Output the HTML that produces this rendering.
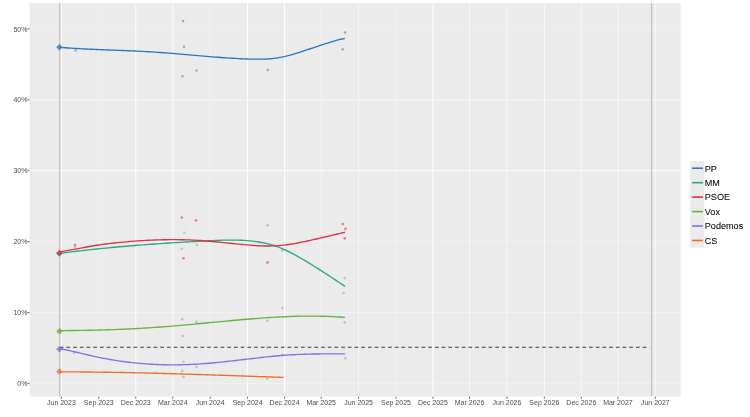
<!DOCTYPE html>
<html><head><meta charset="utf-8"><style>
html,body{margin:0;padding:0;background:#fff;}
svg{display:block;font-family:"Liberation Sans",sans-serif;}
</style></head><body>
<svg width="750" height="417" viewBox="0 0 750 417">
<defs><filter id="b1" x="-5%" y="-5%" width="110%" height="110%"><feGaussianBlur stdDeviation="0.6"/></filter><filter id="b2" x="-5%" y="-5%" width="110%" height="110%"><feGaussianBlur stdDeviation="0.55"/></filter><filter id="b3" x="-5%" y="-5%" width="110%" height="110%"><feGaussianBlur stdDeviation="0.35"/></filter></defs>
<g filter="url(#b1)">
<rect x="29.6" y="3.0" width="651.1" height="393.5" fill="#EBEBEB"/>
<line x1="29.6" x2="680.7" y1="347.95" y2="347.95" stroke="#FFFFFF" stroke-opacity="0.06" stroke-width="0.8"/>
<line x1="29.6" x2="680.7" y1="277.05" y2="277.05" stroke="#FFFFFF" stroke-opacity="0.06" stroke-width="0.8"/>
<line x1="29.6" x2="680.7" y1="206.15" y2="206.15" stroke="#FFFFFF" stroke-opacity="0.06" stroke-width="0.8"/>
<line x1="29.6" x2="680.7" y1="135.25" y2="135.25" stroke="#FFFFFF" stroke-opacity="0.06" stroke-width="0.8"/>
<line x1="29.6" x2="680.7" y1="64.35" y2="64.35" stroke="#FFFFFF" stroke-opacity="0.06" stroke-width="0.8"/>
<line x1="42.70" x2="42.70" y1="3.0" y2="396.5" stroke="#FFFFFF" stroke-opacity="0.15" stroke-width="0.8"/>
<line x1="80.10" x2="80.10" y1="3.0" y2="396.5" stroke="#FFFFFF" stroke-opacity="0.15" stroke-width="0.8"/>
<line x1="117.29" x2="117.29" y1="3.0" y2="396.5" stroke="#FFFFFF" stroke-opacity="0.15" stroke-width="0.8"/>
<line x1="154.29" x2="154.29" y1="3.0" y2="396.5" stroke="#FFFFFF" stroke-opacity="0.15" stroke-width="0.8"/>
<line x1="191.48" x2="191.48" y1="3.0" y2="396.5" stroke="#FFFFFF" stroke-opacity="0.15" stroke-width="0.8"/>
<line x1="228.88" x2="228.88" y1="3.0" y2="396.5" stroke="#FFFFFF" stroke-opacity="0.15" stroke-width="0.8"/>
<line x1="266.07" x2="266.07" y1="3.0" y2="396.5" stroke="#FFFFFF" stroke-opacity="0.15" stroke-width="0.8"/>
<line x1="302.86" x2="302.86" y1="3.0" y2="396.5" stroke="#FFFFFF" stroke-opacity="0.15" stroke-width="0.8"/>
<line x1="339.85" x2="339.85" y1="3.0" y2="396.5" stroke="#FFFFFF" stroke-opacity="0.15" stroke-width="0.8"/>
<line x1="377.25" x2="377.25" y1="3.0" y2="396.5" stroke="#FFFFFF" stroke-opacity="0.15" stroke-width="0.8"/>
<line x1="414.45" x2="414.45" y1="3.0" y2="396.5" stroke="#FFFFFF" stroke-opacity="0.15" stroke-width="0.8"/>
<line x1="451.24" x2="451.24" y1="3.0" y2="396.5" stroke="#FFFFFF" stroke-opacity="0.15" stroke-width="0.8"/>
<line x1="488.23" x2="488.23" y1="3.0" y2="396.5" stroke="#FFFFFF" stroke-opacity="0.15" stroke-width="0.8"/>
<line x1="525.63" x2="525.63" y1="3.0" y2="396.5" stroke="#FFFFFF" stroke-opacity="0.15" stroke-width="0.8"/>
<line x1="562.82" x2="562.82" y1="3.0" y2="396.5" stroke="#FFFFFF" stroke-opacity="0.15" stroke-width="0.8"/>
<line x1="599.61" x2="599.61" y1="3.0" y2="396.5" stroke="#FFFFFF" stroke-opacity="0.15" stroke-width="0.8"/>
<line x1="636.60" x2="636.60" y1="3.0" y2="396.5" stroke="#FFFFFF" stroke-opacity="0.15" stroke-width="0.8"/>
<line x1="674.00" x2="674.00" y1="3.0" y2="396.5" stroke="#FFFFFF" stroke-opacity="0.15" stroke-width="0.8"/>
<line x1="29.6" x2="680.7" y1="383.40" y2="383.40" stroke="#FFFFFF" stroke-opacity="0.3" stroke-width="1"/>
<line x1="29.6" x2="680.7" y1="312.50" y2="312.50" stroke="#FFFFFF" stroke-opacity="0.3" stroke-width="1"/>
<line x1="29.6" x2="680.7" y1="241.60" y2="241.60" stroke="#FFFFFF" stroke-opacity="0.3" stroke-width="1"/>
<line x1="29.6" x2="680.7" y1="170.70" y2="170.70" stroke="#FFFFFF" stroke-opacity="1.0" stroke-width="1"/>
<line x1="29.6" x2="680.7" y1="99.80" y2="99.80" stroke="#FFFFFF" stroke-opacity="0.75" stroke-width="1"/>
<line x1="29.6" x2="680.7" y1="28.90" y2="28.90" stroke="#FFFFFF" stroke-opacity="0.3" stroke-width="1"/>
<line x1="61.40" x2="61.40" y1="3.0" y2="396.5" stroke="#FFFFFF" stroke-opacity="0.8" stroke-width="1"/>
<line x1="98.80" x2="98.80" y1="3.0" y2="396.5" stroke="#FFFFFF" stroke-opacity="0.3" stroke-width="1"/>
<line x1="135.79" x2="135.79" y1="3.0" y2="396.5" stroke="#FFFFFF" stroke-opacity="1.0" stroke-width="1"/>
<line x1="172.78" x2="172.78" y1="3.0" y2="396.5" stroke="#FFFFFF" stroke-opacity="0.9" stroke-width="1"/>
<line x1="210.18" x2="210.18" y1="3.0" y2="396.5" stroke="#FFFFFF" stroke-opacity="0.3" stroke-width="1"/>
<line x1="247.58" x2="247.58" y1="3.0" y2="396.5" stroke="#FFFFFF" stroke-opacity="1.0" stroke-width="1"/>
<line x1="284.57" x2="284.57" y1="3.0" y2="396.5" stroke="#FFFFFF" stroke-opacity="1.0" stroke-width="1"/>
<line x1="321.16" x2="321.16" y1="3.0" y2="396.5" stroke="#FFFFFF" stroke-opacity="0.35" stroke-width="1"/>
<line x1="358.55" x2="358.55" y1="3.0" y2="396.5" stroke="#FFFFFF" stroke-opacity="0.6" stroke-width="1"/>
<line x1="395.95" x2="395.95" y1="3.0" y2="396.5" stroke="#FFFFFF" stroke-opacity="0.3" stroke-width="1"/>
<line x1="432.94" x2="432.94" y1="3.0" y2="396.5" stroke="#FFFFFF" stroke-opacity="1.0" stroke-width="1"/>
<line x1="469.53" x2="469.53" y1="3.0" y2="396.5" stroke="#FFFFFF" stroke-opacity="0.6" stroke-width="1"/>
<line x1="506.93" x2="506.93" y1="3.0" y2="396.5" stroke="#FFFFFF" stroke-opacity="0.6" stroke-width="1"/>
<line x1="544.32" x2="544.32" y1="3.0" y2="396.5" stroke="#FFFFFF" stroke-opacity="0.8" stroke-width="1"/>
<line x1="581.32" x2="581.32" y1="3.0" y2="396.5" stroke="#FFFFFF" stroke-opacity="0.6" stroke-width="1"/>
<line x1="617.90" x2="617.90" y1="3.0" y2="396.5" stroke="#FFFFFF" stroke-opacity="0.7" stroke-width="1"/>
<line x1="655.30" x2="655.30" y1="3.0" y2="396.5" stroke="#FFFFFF" stroke-opacity="0.6" stroke-width="1"/>
</g><g filter="url(#b2)">
<line x1="59.77" x2="59.77" y1="3.0" y2="396.5" stroke="#A0A0A0" stroke-width="0.7"/>
<line x1="651.64" x2="651.64" y1="3.0" y2="396.5" stroke="#A0A0A0" stroke-width="0.7"/>
<line x1="59.77" x2="649.64" y1="347.2" y2="347.2" stroke="#3A3A3A" stroke-width="1.15" stroke-dasharray="3.7 3"/>
<circle cx="75.6" cy="50.5" r="1.3" fill="#2E76BA" fill-opacity="0.5"/>
<circle cx="183.1" cy="21.1" r="1.3" fill="#2E76BA" fill-opacity="0.5"/>
<circle cx="184" cy="46.9" r="1.3" fill="#2E76BA" fill-opacity="0.5"/>
<circle cx="182.5" cy="76.2" r="1.3" fill="#2E76BA" fill-opacity="0.5"/>
<circle cx="196.5" cy="70.5" r="1.3" fill="#2E76BA" fill-opacity="0.5"/>
<circle cx="267.8" cy="69.9" r="1.3" fill="#2E76BA" fill-opacity="0.5"/>
<circle cx="345.1" cy="32.5" r="1.3" fill="#2E76BA" fill-opacity="0.5"/>
<circle cx="342.7" cy="49.3" r="1.3" fill="#2E76BA" fill-opacity="0.5"/>
<circle cx="181.8" cy="217.6" r="1.3" fill="#DE3344" fill-opacity="0.6"/>
<circle cx="196" cy="220.5" r="1.3" fill="#DE3344" fill-opacity="0.6"/>
<circle cx="183.5" cy="258.2" r="1.3" fill="#DE3344" fill-opacity="0.6"/>
<circle cx="267.5" cy="262.4" r="1.3" fill="#DE3344" fill-opacity="0.6"/>
<circle cx="342.8" cy="224" r="1.3" fill="#DE3344" fill-opacity="0.6"/>
<circle cx="345.4" cy="228.8" r="1.3" fill="#DE3344" fill-opacity="0.6"/>
<circle cx="344.7" cy="238.4" r="1.3" fill="#DE3344" fill-opacity="0.6"/>
<circle cx="75" cy="245" r="1.3" fill="#DE3344" fill-opacity="0.6"/>
<circle cx="184.3" cy="232.7" r="1.3" fill="#8A9A94" fill-opacity="0.5"/>
<circle cx="181.8" cy="248.7" r="1.3" fill="#8A9A94" fill-opacity="0.5"/>
<circle cx="196.9" cy="245" r="1.3" fill="#8A9A94" fill-opacity="0.5"/>
<circle cx="267.5" cy="225.2" r="1.3" fill="#8A9A94" fill-opacity="0.5"/>
<circle cx="282.3" cy="250.4" r="1.3" fill="#8A9A94" fill-opacity="0.5"/>
<circle cx="344.7" cy="278" r="1.3" fill="#8A9A94" fill-opacity="0.5"/>
<circle cx="343.5" cy="293" r="1.3" fill="#8A9A94" fill-opacity="0.5"/>
<circle cx="75" cy="247" r="1.3" fill="#8A9A94" fill-opacity="0.5"/>
<circle cx="182.2" cy="319.2" r="1.3" fill="#8A9A94" fill-opacity="0.5"/>
<circle cx="196.6" cy="321.9" r="1.3" fill="#8A9A94" fill-opacity="0.5"/>
<circle cx="182.8" cy="335.9" r="1.3" fill="#8A9A94" fill-opacity="0.5"/>
<circle cx="282.4" cy="308" r="1.3" fill="#8A9A94" fill-opacity="0.5"/>
<circle cx="267.3" cy="320.7" r="1.3" fill="#8A9A94" fill-opacity="0.5"/>
<circle cx="344.7" cy="322.4" r="1.3" fill="#8A9A94" fill-opacity="0.5"/>
<circle cx="74" cy="352.8" r="1.3" fill="#8A9A94" fill-opacity="0.5"/>
<circle cx="183.6" cy="361.7" r="1.3" fill="#8A9A94" fill-opacity="0.5"/>
<circle cx="196.6" cy="367" r="1.3" fill="#8A9A94" fill-opacity="0.5"/>
<circle cx="267.3" cy="347.5" r="1.3" fill="#8A9A94" fill-opacity="0.5"/>
<circle cx="282.4" cy="354.7" r="1.3" fill="#8A9A94" fill-opacity="0.5"/>
<circle cx="344" cy="347.5" r="1.3" fill="#8A9A94" fill-opacity="0.5"/>
<circle cx="345.4" cy="358.3" r="1.3" fill="#8A9A94" fill-opacity="0.5"/>
<circle cx="182.2" cy="370.9" r="1.3" fill="#8A9A94" fill-opacity="0.5"/>
<circle cx="183.6" cy="377" r="1.3" fill="#8A9A94" fill-opacity="0.5"/>
<circle cx="267.3" cy="378.7" r="1.3" fill="#8A9A94" fill-opacity="0.5"/>
<polyline points="59.50,47.31 62.38,47.54 65.27,47.76 68.15,47.96 71.03,48.15 73.91,48.33 76.80,48.51 79.68,48.67 82.56,48.82 85.45,48.97 88.33,49.11 91.21,49.25 94.09,49.38 96.98,49.50 99.86,49.62 102.74,49.74 105.63,49.86 108.51,49.97 111.39,50.08 114.27,50.19 117.16,50.31 120.04,50.42 122.92,50.54 125.81,50.65 128.69,50.77 131.57,50.90 134.45,51.03 137.34,51.16 140.22,51.30 143.10,51.45 145.98,51.60 148.87,51.77 151.75,51.94 154.63,52.12 157.52,52.31 160.40,52.51 163.28,52.72 166.16,52.94 169.05,53.16 171.93,53.39 174.81,53.63 177.70,53.87 180.58,54.12 183.46,54.37 186.34,54.62 189.23,54.87 192.11,55.12 194.99,55.37 197.88,55.63 200.76,55.87 203.64,56.12 206.52,56.37 209.41,56.60 212.29,56.84 215.17,57.07 218.06,57.29 220.94,57.50 223.82,57.71 226.70,57.91 229.59,58.09 232.47,58.27 235.35,58.43 238.24,58.58 241.12,58.72 244.00,58.85 246.88,58.96 249.77,59.05 252.65,59.13 255.53,59.18 258.42,59.20 261.30,59.17 264.18,59.10 267.06,58.97 269.95,58.78 272.83,58.51 275.71,58.15 278.59,57.71 281.48,57.17 284.36,56.56 287.24,55.87 290.13,55.12 293.01,54.31 295.89,53.46 298.77,52.56 301.66,51.64 304.54,50.69 307.42,49.73 310.31,48.76 313.19,47.78 316.07,46.81 318.95,45.84 321.84,44.89 324.72,43.95 327.60,43.03 330.49,42.14 333.37,41.29 336.25,40.47 339.13,39.70 342.02,38.98 344.90,38.31" fill="none" stroke="#2E76BA" stroke-width="1.35" stroke-linejoin="round" stroke-linecap="butt"/>
<polyline points="59.50,253.43 62.38,253.05 65.27,252.67 68.15,252.30 71.04,251.93 73.92,251.58 76.80,251.23 79.69,250.89 82.57,250.55 85.45,250.22 88.34,249.90 91.22,249.58 94.11,249.27 96.99,248.97 99.87,248.67 102.76,248.38 105.64,248.09 108.53,247.81 111.41,247.54 114.29,247.27 117.18,247.00 120.06,246.74 122.94,246.49 125.83,246.24 128.71,246.00 131.60,245.76 134.48,245.52 137.36,245.29 140.25,245.07 143.13,244.85 146.02,244.63 148.90,244.42 151.78,244.21 154.67,244.00 157.55,243.80 160.43,243.60 163.32,243.41 166.20,243.22 169.09,243.03 171.97,242.85 174.85,242.67 177.74,242.49 180.62,242.31 183.51,242.14 186.39,241.97 189.27,241.80 192.16,241.64 195.04,241.47 197.92,241.31 200.81,241.15 203.69,241.00 206.58,240.84 209.46,240.69 212.34,240.55 215.23,240.42 218.11,240.31 220.99,240.21 223.88,240.14 226.76,240.08 229.65,240.06 232.53,240.06 235.41,240.10 238.30,240.17 241.18,240.29 244.07,240.44 246.95,240.64 249.83,240.89 252.72,241.19 255.60,241.55 258.48,241.97 261.37,242.46 264.25,243.03 267.14,243.68 270.02,244.42 272.90,245.25 275.79,246.19 278.67,247.23 281.56,248.38 284.44,249.63 287.32,250.96 290.21,252.38 293.09,253.87 295.97,255.43 298.86,257.04 301.74,258.71 304.63,260.42 307.51,262.17 310.39,263.94 313.28,265.73 316.16,267.54 319.05,269.36 321.93,271.19 324.81,273.04 327.70,274.90 330.58,276.78 333.46,278.67 336.35,280.57 339.23,282.49 342.12,284.43 345.00,286.39" fill="none" stroke="#2AAA82" stroke-width="1.35" stroke-linejoin="round" stroke-linecap="butt"/>
<polyline points="59.50,251.86 62.38,251.41 65.27,250.94 68.15,250.45 71.04,249.94 73.92,249.42 76.80,248.88 79.69,248.35 82.57,247.81 85.45,247.28 88.34,246.75 91.22,246.25 94.11,245.76 96.99,245.29 99.87,244.85 102.76,244.44 105.64,244.04 108.53,243.67 111.41,243.32 114.29,242.99 117.18,242.68 120.06,242.38 122.94,242.11 125.83,241.85 128.71,241.60 131.60,241.37 134.48,241.15 137.36,240.94 140.25,240.75 143.13,240.58 146.02,240.41 148.90,240.26 151.78,240.13 154.67,240.01 157.55,239.91 160.43,239.83 163.32,239.76 166.20,239.71 169.09,239.67 171.97,239.65 174.85,239.66 177.74,239.67 180.62,239.71 183.51,239.77 186.39,239.85 189.27,239.94 192.16,240.06 195.04,240.20 197.92,240.36 200.81,240.54 203.69,240.74 206.58,240.97 209.46,241.21 212.34,241.47 215.23,241.74 218.11,242.02 220.99,242.32 223.88,242.62 226.76,242.92 229.65,243.23 232.53,243.53 235.41,243.83 238.30,244.12 241.18,244.40 244.07,244.67 246.95,244.93 249.83,245.17 252.72,245.39 255.60,245.59 258.48,245.75 261.37,245.88 264.25,245.97 267.14,246.02 270.02,246.01 272.90,245.95 275.79,245.83 278.67,245.64 281.56,245.39 284.44,245.08 287.32,244.71 290.21,244.29 293.09,243.82 295.97,243.32 298.86,242.77 301.74,242.20 304.63,241.59 307.51,240.97 310.39,240.32 313.28,239.67 316.16,239.00 319.05,238.33 321.93,237.65 324.81,236.97 327.70,236.29 330.58,235.61 333.46,234.93 336.35,234.26 339.23,233.59 342.12,232.93 345.00,232.28" fill="none" stroke="#DE3344" stroke-width="1.35" stroke-linejoin="round" stroke-linecap="butt"/>
<polyline points="59.30,330.60 62.19,330.59 65.07,330.57 67.96,330.55 70.84,330.52 73.73,330.49 76.62,330.46 79.50,330.42 82.39,330.38 85.27,330.33 88.16,330.28 91.04,330.22 93.93,330.16 96.82,330.09 99.70,330.01 102.59,329.93 105.47,329.85 108.36,329.76 111.25,329.66 114.13,329.56 117.02,329.45 119.90,329.34 122.79,329.22 125.67,329.09 128.56,328.96 131.45,328.82 134.33,328.67 137.22,328.52 140.10,328.35 142.99,328.19 145.88,328.01 148.76,327.83 151.65,327.64 154.53,327.44 157.42,327.24 160.31,327.03 163.19,326.81 166.08,326.58 168.96,326.35 171.85,326.12 174.73,325.87 177.62,325.63 180.51,325.37 183.39,325.12 186.28,324.86 189.16,324.60 192.05,324.33 194.94,324.06 197.82,323.79 200.71,323.52 203.59,323.25 206.48,322.97 209.36,322.70 212.25,322.42 215.14,322.15 218.02,321.87 220.91,321.60 223.79,321.33 226.68,321.06 229.57,320.79 232.45,320.53 235.34,320.26 238.22,320.01 241.11,319.75 243.99,319.50 246.88,319.26 249.77,319.01 252.65,318.78 255.54,318.55 258.42,318.33 261.31,318.11 264.20,317.90 267.08,317.70 269.97,317.51 272.85,317.33 275.74,317.16 278.63,317.00 281.51,316.84 284.40,316.71 287.28,316.58 290.17,316.46 293.05,316.36 295.94,316.28 298.83,316.20 301.71,316.15 304.60,316.10 307.48,316.08 310.37,316.07 313.26,316.07 316.14,316.10 319.03,316.14 321.91,316.21 324.80,316.29 327.68,316.39 330.57,316.51 333.46,316.66 336.34,316.82 339.23,317.01 342.11,317.22 345.00,317.45" fill="none" stroke="#62B638" stroke-width="1.35" stroke-linejoin="round" stroke-linecap="butt"/>
<polyline points="59.30,348.45 62.19,349.01 65.07,349.61 67.96,350.23 70.84,350.88 73.73,351.55 76.62,352.24 79.50,352.93 82.39,353.62 85.27,354.31 88.16,354.99 91.04,355.66 93.93,356.31 96.82,356.94 99.70,357.54 102.59,358.12 105.47,358.68 108.36,359.21 111.25,359.71 114.13,360.20 117.02,360.65 119.90,361.09 122.79,361.50 125.67,361.89 128.56,362.25 131.45,362.58 134.33,362.90 137.22,363.19 140.10,363.45 142.99,363.69 145.88,363.91 148.76,364.10 151.65,364.27 154.53,364.42 157.42,364.54 160.31,364.64 163.19,364.72 166.08,364.78 168.96,364.82 171.85,364.83 174.73,364.82 177.62,364.80 180.51,364.75 183.39,364.68 186.28,364.59 189.16,364.49 192.05,364.36 194.94,364.22 197.82,364.05 200.71,363.87 203.59,363.67 206.48,363.46 209.36,363.22 212.25,362.97 215.14,362.71 218.02,362.43 220.91,362.13 223.79,361.83 226.68,361.52 229.57,361.19 232.45,360.86 235.34,360.53 238.22,360.19 241.11,359.85 243.99,359.50 246.88,359.16 249.77,358.82 252.65,358.48 255.54,358.14 258.42,357.81 261.31,357.48 264.20,357.16 267.08,356.86 269.97,356.56 272.85,356.27 275.74,356.00 278.63,355.74 281.51,355.50 284.40,355.28 287.28,355.07 290.17,354.89 293.05,354.72 295.94,354.58 298.83,354.45 301.71,354.34 304.60,354.24 307.48,354.16 310.37,354.09 313.26,354.04 316.14,353.99 319.03,353.96 321.91,353.93 324.80,353.92 327.68,353.91 330.57,353.90 333.46,353.90 336.34,353.90 339.23,353.90 342.11,353.91 345.00,353.91" fill="none" stroke="#8270E6" stroke-width="1.35" stroke-linejoin="round" stroke-linecap="butt"/>
<polyline points="59.30,371.84 61.57,371.85 63.83,371.85 66.10,371.86 68.36,371.87 70.63,371.88 72.89,371.89 75.16,371.90 77.43,371.92 79.69,371.93 81.96,371.95 84.22,371.97 86.49,371.99 88.75,372.02 91.02,372.04 93.28,372.07 95.55,372.09 97.82,372.12 100.08,372.15 102.35,372.18 104.61,372.21 106.88,372.25 109.14,372.28 111.41,372.32 113.68,372.36 115.94,372.40 118.21,372.44 120.47,372.48 122.74,372.52 125.00,372.56 127.27,372.61 129.54,372.65 131.80,372.70 134.07,372.75 136.33,372.80 138.60,372.85 140.86,372.90 143.13,372.95 145.39,373.01 147.66,373.06 149.93,373.12 152.19,373.17 154.46,373.23 156.72,373.29 158.99,373.35 161.25,373.41 163.52,373.47 165.79,373.53 168.05,373.59 170.32,373.66 172.58,373.72 174.85,373.79 177.11,373.85 179.38,373.92 181.65,373.98 183.91,374.05 186.18,374.12 188.44,374.19 190.71,374.26 192.97,374.33 195.24,374.40 197.51,374.47 199.77,374.54 202.04,374.62 204.30,374.69 206.57,374.76 208.83,374.84 211.10,374.91 213.36,374.99 215.63,375.06 217.90,375.14 220.16,375.22 222.43,375.29 224.69,375.37 226.96,375.45 229.22,375.52 231.49,375.60 233.76,375.68 236.02,375.76 238.29,375.84 240.55,375.92 242.82,376.00 245.08,376.07 247.35,376.15 249.62,376.23 251.88,376.31 254.15,376.39 256.41,376.47 258.68,376.55 260.94,376.63 263.21,376.71 265.47,376.79 267.74,376.87 270.01,376.95 272.27,377.03 274.54,377.11 276.80,377.19 279.07,377.27 281.33,377.35 283.60,377.43" fill="none" stroke="#EA7028" stroke-width="1.35" stroke-linejoin="round" stroke-linecap="butt"/>
<path d="M56.199999999999996,47.3 L59.4,44.099999999999994 L62.6,47.3 L59.4,50.5 Z" fill="#2E76BA" fill-opacity="0.8"/>
<path d="M56.199999999999996,253.6 L59.4,250.4 L62.6,253.6 L59.4,256.8 Z" fill="#2AAA82" fill-opacity="0.8"/>
<path d="M56.199999999999996,253.0 L59.4,249.8 L62.6,253.0 L59.4,256.2 Z" fill="#DE3344" fill-opacity="0.8"/>
<path d="M56.199999999999996,331.2 L59.4,328.0 L62.6,331.2 L59.4,334.4 Z" fill="#62B638" fill-opacity="0.8"/>
<path d="M56.199999999999996,349.2 L59.4,346.0 L62.6,349.2 L59.4,352.4 Z" fill="#8270E6" fill-opacity="0.8"/>
<path d="M56.199999999999996,371.5 L59.4,368.3 L62.6,371.5 L59.4,374.7 Z" fill="#EA7028" fill-opacity="0.8"/>
</g><g filter="url(#b3)">
<line x1="61.40" x2="61.40" y1="396.5" y2="398.9" stroke="#555555" stroke-width="0.8"/>
<text transform="translate(61.40,404.9) scale(1,1.1)" font-size="7" text-anchor="middle" fill="#4D4D4D">Jun 2023</text>
<line x1="98.80" x2="98.80" y1="396.5" y2="398.9" stroke="#555555" stroke-width="0.8"/>
<text transform="translate(98.80,404.9) scale(1,1.1)" font-size="7" text-anchor="middle" fill="#4D4D4D">Sep 2023</text>
<line x1="135.79" x2="135.79" y1="396.5" y2="398.9" stroke="#555555" stroke-width="0.8"/>
<text transform="translate(135.79,404.9) scale(1,1.1)" font-size="7" text-anchor="middle" fill="#4D4D4D">Dec 2023</text>
<line x1="172.78" x2="172.78" y1="396.5" y2="398.9" stroke="#555555" stroke-width="0.8"/>
<text transform="translate(172.78,404.9) scale(1,1.1)" font-size="7" text-anchor="middle" fill="#4D4D4D">Mar 2024</text>
<line x1="210.18" x2="210.18" y1="396.5" y2="398.9" stroke="#555555" stroke-width="0.8"/>
<text transform="translate(210.18,404.9) scale(1,1.1)" font-size="7" text-anchor="middle" fill="#4D4D4D">Jun 2024</text>
<line x1="247.58" x2="247.58" y1="396.5" y2="398.9" stroke="#555555" stroke-width="0.8"/>
<text transform="translate(247.58,404.9) scale(1,1.1)" font-size="7" text-anchor="middle" fill="#4D4D4D">Sep 2024</text>
<line x1="284.57" x2="284.57" y1="396.5" y2="398.9" stroke="#555555" stroke-width="0.8"/>
<text transform="translate(284.57,404.9) scale(1,1.1)" font-size="7" text-anchor="middle" fill="#4D4D4D">Dec 2024</text>
<line x1="321.16" x2="321.16" y1="396.5" y2="398.9" stroke="#555555" stroke-width="0.8"/>
<text transform="translate(321.16,404.9) scale(1,1.1)" font-size="7" text-anchor="middle" fill="#4D4D4D">Mar 2025</text>
<line x1="358.55" x2="358.55" y1="396.5" y2="398.9" stroke="#555555" stroke-width="0.8"/>
<text transform="translate(358.55,404.9) scale(1,1.1)" font-size="7" text-anchor="middle" fill="#4D4D4D">Jun 2025</text>
<line x1="395.95" x2="395.95" y1="396.5" y2="398.9" stroke="#555555" stroke-width="0.8"/>
<text transform="translate(395.95,404.9) scale(1,1.1)" font-size="7" text-anchor="middle" fill="#4D4D4D">Sep 2025</text>
<line x1="432.94" x2="432.94" y1="396.5" y2="398.9" stroke="#555555" stroke-width="0.8"/>
<text transform="translate(432.94,404.9) scale(1,1.1)" font-size="7" text-anchor="middle" fill="#4D4D4D">Dec 2025</text>
<line x1="469.53" x2="469.53" y1="396.5" y2="398.9" stroke="#555555" stroke-width="0.8"/>
<text transform="translate(469.53,404.9) scale(1,1.1)" font-size="7" text-anchor="middle" fill="#4D4D4D">Mar 2026</text>
<line x1="506.93" x2="506.93" y1="396.5" y2="398.9" stroke="#555555" stroke-width="0.8"/>
<text transform="translate(506.93,404.9) scale(1,1.1)" font-size="7" text-anchor="middle" fill="#4D4D4D">Jun 2026</text>
<line x1="544.32" x2="544.32" y1="396.5" y2="398.9" stroke="#555555" stroke-width="0.8"/>
<text transform="translate(544.32,404.9) scale(1,1.1)" font-size="7" text-anchor="middle" fill="#4D4D4D">Sep 2026</text>
<line x1="581.32" x2="581.32" y1="396.5" y2="398.9" stroke="#555555" stroke-width="0.8"/>
<text transform="translate(581.32,404.9) scale(1,1.1)" font-size="7" text-anchor="middle" fill="#4D4D4D">Dec 2026</text>
<line x1="617.90" x2="617.90" y1="396.5" y2="398.9" stroke="#555555" stroke-width="0.8"/>
<text transform="translate(617.90,404.9) scale(1,1.1)" font-size="7" text-anchor="middle" fill="#4D4D4D">Mar 2027</text>
<line x1="655.30" x2="655.30" y1="396.5" y2="398.9" stroke="#555555" stroke-width="0.8"/>
<text transform="translate(655.30,404.9) scale(1,1.1)" font-size="7" text-anchor="middle" fill="#4D4D4D">Jun 2027</text>
<line x1="27.400000000000002" x2="29.6" y1="383.40" y2="383.40" stroke="#555555" stroke-width="0.8"/>
<text transform="translate(27.4,386.00) scale(1,1.08)" font-size="7" text-anchor="end" fill="#4D4D4D">0%</text>
<line x1="27.400000000000002" x2="29.6" y1="312.50" y2="312.50" stroke="#555555" stroke-width="0.8"/>
<text transform="translate(27.4,315.10) scale(1,1.08)" font-size="7" text-anchor="end" fill="#4D4D4D">10%</text>
<line x1="27.400000000000002" x2="29.6" y1="241.60" y2="241.60" stroke="#555555" stroke-width="0.8"/>
<text transform="translate(27.4,244.20) scale(1,1.08)" font-size="7" text-anchor="end" fill="#4D4D4D">20%</text>
<line x1="27.400000000000002" x2="29.6" y1="170.70" y2="170.70" stroke="#555555" stroke-width="0.8"/>
<text transform="translate(27.4,173.30) scale(1,1.08)" font-size="7" text-anchor="end" fill="#4D4D4D">30%</text>
<line x1="27.400000000000002" x2="29.6" y1="99.80" y2="99.80" stroke="#555555" stroke-width="0.8"/>
<text transform="translate(27.4,102.40) scale(1,1.08)" font-size="7" text-anchor="end" fill="#4D4D4D">40%</text>
<line x1="27.400000000000002" x2="29.6" y1="28.90" y2="28.90" stroke="#555555" stroke-width="0.8"/>
<text transform="translate(27.4,31.50) scale(1,1.08)" font-size="7" text-anchor="end" fill="#4D4D4D">50%</text>
<rect x="690.2" y="161.0" width="14.0" height="86.69999999999999" fill="#EBEBEB"/>
<line x1="692.0" x2="703.0" y1="168.22" y2="168.22" stroke="#2E76BA" stroke-width="1.6"/>
<text transform="translate(704.8,171.53) scale(1,1.04)" font-size="9.1" fill="#000000" stroke="#000000" stroke-width="0.06">PP</text>
<line x1="692.0" x2="703.0" y1="182.68" y2="182.68" stroke="#2AAA82" stroke-width="1.6"/>
<text transform="translate(704.8,185.98) scale(1,1.04)" font-size="9.1" fill="#000000" stroke="#000000" stroke-width="0.06">MM</text>
<line x1="692.0" x2="703.0" y1="197.12" y2="197.12" stroke="#DE3344" stroke-width="1.6"/>
<text transform="translate(704.8,200.43) scale(1,1.04)" font-size="9.1" fill="#000000" stroke="#000000" stroke-width="0.06">PSOE</text>
<line x1="692.0" x2="703.0" y1="211.57" y2="211.57" stroke="#62B638" stroke-width="1.6"/>
<text transform="translate(704.8,214.88) scale(1,1.04)" font-size="9.1" fill="#000000" stroke="#000000" stroke-width="0.06">Vox</text>
<line x1="692.0" x2="703.0" y1="226.02" y2="226.02" stroke="#8270E6" stroke-width="1.6"/>
<text transform="translate(704.8,229.32) scale(1,1.04)" font-size="9.1" fill="#000000" stroke="#000000" stroke-width="0.06">Podemos</text>
<line x1="692.0" x2="703.0" y1="240.47" y2="240.47" stroke="#EA7028" stroke-width="1.6"/>
<text transform="translate(704.8,243.78) scale(1,1.04)" font-size="9.1" fill="#000000" stroke="#000000" stroke-width="0.06">CS</text>
</g>
</svg></body></html>
